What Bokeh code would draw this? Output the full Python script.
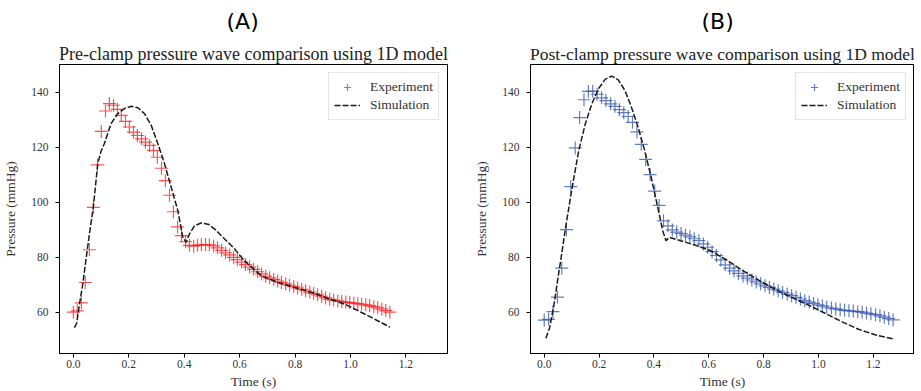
from bokeh.plotting import figure
from bokeh.layouts import row
from bokeh.models import Title, FixedTicker, Range1d, PrintfTickFormatter
from bokeh.embed import file_html
from bokeh.resources import INLINE

# ---------------- data ----------------
pre_exp_t = [0.000, 0.014, 0.029, 0.043, 0.058, 0.072, 0.087, 0.101, 0.116, 0.130,
             0.145, 0.159, 0.173, 0.188, 0.202, 0.217, 0.231, 0.246, 0.260, 0.275,
             0.289, 0.303, 0.318, 0.332, 0.347, 0.361, 0.376, 0.390, 0.405, 0.419,
             0.434, 0.448, 0.462, 0.477, 0.491, 0.506, 0.520, 0.535, 0.549, 0.564,
             0.578, 0.592, 0.607, 0.621, 0.636, 0.650, 0.665, 0.679, 0.694, 0.708,
             0.723, 0.737, 0.751, 0.766, 0.780, 0.795, 0.809, 0.824, 0.838, 0.853,
             0.867, 0.881, 0.896, 0.910, 0.925, 0.939, 0.954, 0.968, 0.983, 0.997,
             1.012, 1.026, 1.040, 1.055, 1.069, 1.084, 1.098, 1.113, 1.127, 1.142]
pre_exp_p = [60.0, 60.5, 63.4, 70.8, 82.7, 98.1, 113.5, 125.7, 133.1, 135.8,
             135.2, 133.7, 131.5, 129.3, 127.3, 125.4, 124.2, 123.0, 121.8, 120.6,
             118.8, 116.3, 112.3, 107.8, 102.5, 96.5, 91.0, 87.8, 85.6, 84.3,
             84.0, 84.3, 84.5, 84.6, 84.5, 84.1, 83.4, 82.5, 81.6, 80.8,
             79.9, 79.1, 78.2, 77.3, 76.4, 75.6, 74.7, 73.9, 73.1, 72.5,
             71.9, 71.3, 70.8, 70.3, 69.8, 69.3, 68.8, 68.3, 67.8, 67.3,
             66.8, 66.3, 65.8, 65.2, 64.7, 64.4, 64.1, 63.9, 63.7, 63.5,
             63.3, 63.1, 62.9, 62.7, 62.4, 62.0, 61.6, 61.1, 60.6, 60.0]

pre_sim_t = [0.004, 0.012, 0.022, 0.034, 0.046, 0.058, 0.072, 0.088, 0.100, 0.112,
             0.136, 0.160, 0.184, 0.209, 0.233, 0.257, 0.281, 0.305, 0.329, 0.353,
             0.377, 0.395, 0.407, 0.419, 0.437, 0.461, 0.486, 0.510, 0.534, 0.558,
             0.582, 0.606, 0.630, 0.679, 0.739, 0.799, 0.859, 0.920, 0.980, 1.040,
             1.100, 1.142]
pre_sim_p = [54.4, 56.0, 62.9, 70.2, 79.5, 88.5, 98.1, 113.9, 118.5, 121.3,
             128.5, 132.1, 134.0, 134.8, 134.3, 132.1, 127.9, 121.2, 113.9, 105.4,
             96.9, 87.2, 85.4, 88.4, 91.4, 92.4, 92.0, 90.2, 87.8, 85.4,
             83.0, 80.0, 77.5, 73.2, 70.8, 69.0, 67.2, 65.0, 62.9, 59.9,
             56.8, 54.6]

post_exp_t = [0.000, 0.016, 0.032, 0.048, 0.064, 0.081, 0.097, 0.113, 0.129, 0.145,
              0.161, 0.177, 0.193, 0.209, 0.225, 0.242, 0.258, 0.274, 0.290, 0.306,
              0.322, 0.338, 0.354, 0.370, 0.386, 0.403, 0.419, 0.435, 0.451, 0.467,
              0.483, 0.499, 0.515, 0.531, 0.547, 0.564, 0.580, 0.596, 0.612, 0.628,
              0.644, 0.660, 0.676, 0.692, 0.708, 0.725, 0.741, 0.757, 0.773, 0.789,
              0.805, 0.821, 0.837, 0.853, 0.869, 0.886, 0.902, 0.918, 0.934, 0.950,
              0.966, 0.982, 0.998, 1.014, 1.030, 1.047, 1.063, 1.079, 1.095, 1.111,
              1.127, 1.143, 1.159, 1.175, 1.191, 1.208, 1.224, 1.240, 1.256, 1.272]
post_exp_p = [57.1, 57.4, 60.2, 65.5, 76.0, 90.0, 105.6, 119.7, 130.7, 137.2,
              140.2, 140.3, 139.2, 137.9, 136.9, 135.7, 134.8, 133.6, 132.5, 131.1,
              129.0, 125.5, 121.0, 115.5, 110.0, 104.0, 98.8, 93.2, 91.4, 89.9,
              89.1, 88.6, 88.0, 87.4, 86.7, 86.0, 84.8, 83.6, 82.0, 80.6,
              79.0, 77.2, 76.0, 75.0, 74.1, 73.2, 72.4, 71.7, 71.0, 70.3,
              69.6, 69.0, 68.4, 67.8, 67.2, 66.6, 66.0, 65.4, 64.8, 64.2,
              63.7, 63.2, 62.7, 62.3, 61.9, 61.5, 61.2, 60.9, 60.7, 60.5,
              60.4, 60.2, 60.0, 59.7, 59.4, 59.1, 58.7, 58.2, 57.7, 57.2]

post_sim_t = [0.006, 0.020, 0.036, 0.054, 0.060, 0.078, 0.102, 0.126, 0.150, 0.174,
              0.198, 0.222, 0.246, 0.270, 0.294, 0.318, 0.342, 0.366, 0.390, 0.414,
              0.432, 0.444, 0.456, 0.486, 0.546, 0.606, 0.666, 0.726, 0.786, 0.846,
              0.906, 0.966, 1.026, 1.086, 1.146, 1.206, 1.278]
post_sim_p = [50.5, 54.4, 62.9, 75.0, 78.7, 90.8, 105.4, 118.8, 128.5, 135.8,
              141.2, 144.6, 145.8, 144.4, 140.6, 134.5, 127.3, 118.8, 109.0, 98.1,
              89.6, 86.0, 87.2, 86.3, 84.5, 82.4, 78.9, 75.0, 71.4, 68.1,
              65.2, 62.5, 59.5, 56.5, 53.8, 51.8, 50.2]

x_ticks = [0.0, 0.2, 0.4, 0.6, 0.8, 1.0, 1.2]
y_ticks = [60, 80, 100, 120, 140]

panel_letters = ["(A)", "(B)"]
panel_titles = ["Pre-clamp pressure wave comparison using 1D model",
                "Post-clamp pressure wave comparison using 1D model"]
series_labels = ["Experiment", "Simulation"]
x_label = "Time (s)"
y_label = "Pressure (mmHg)"

SERIF = "Liberation Serif"


def make_panel(letter, title, et, ep, st, sp, color, fw, mbl, mbr, letter_offset, title_size):
    p = figure(frame_width=fw, frame_height=289, title=None,
               x_range=Range1d(-0.05, 1.35), y_range=Range1d(45, 150),
               output_backend="svg", toolbar_location=None,
               min_border_left=mbl, min_border_right=mbr,
               min_border_top=55, min_border_bottom=30)
    p.add_layout(Title(text=title, align="center", text_font=SERIF,
                       text_font_size=title_size, text_font_style="normal",
                       text_color="#222222", standoff=2), "above")
    p.add_layout(Title(text=letter, align="left", text_font="DejaVu Sans",
                       text_font_size="22px", text_font_style="normal",
                       text_color="#000000", offset=letter_offset, standoff=13), "above")

    p.scatter(et, ep, marker="cross", size=13, line_color=color, line_alpha=0.75,
              line_width=1.2, legend_label=series_labels[0])
    p.line(st, sp, line_color="#1a1a1a", line_width=1.5, line_dash="6 2",
           legend_label=series_labels[1])

    p.xgrid.visible = False
    p.ygrid.visible = False
    p.outline_line_color = "#000000"
    p.outline_line_width = 1
    p.outline_line_alpha = 1

    for ax in (p.xaxis[0], p.yaxis[0]):
        ax.axis_line_color = "#000000"
        ax.major_tick_out = 4
        ax.major_tick_in = 0
        ax.minor_tick_out = 0
        ax.minor_tick_in = 0
        ax.major_tick_line_color = "#000000"
        ax.major_label_text_font = SERIF
        ax.major_label_text_font_size = "11.5px"
        ax.major_label_text_color = "#333333"
        ax.axis_label_text_font = SERIF
        ax.axis_label_text_font_size = "13.5px"
        ax.axis_label_text_font_style = "normal"
        ax.axis_label_text_color = "#333333"

    p.xaxis.ticker = FixedTicker(ticks=x_ticks)
    p.yaxis.ticker = FixedTicker(ticks=y_ticks)
    p.xaxis.formatter = PrintfTickFormatter(format="%.1f")
    p.yaxis.formatter = PrintfTickFormatter(format="%d")
    p.xaxis.axis_label = x_label
    p.yaxis.axis_label = y_label
    p.xaxis.major_label_standoff = 2
    p.yaxis.major_label_standoff = 7
    p.xaxis.axis_label_standoff = 3
    p.yaxis.axis_label_standoff = 10

    lg = p.legend[0]
    lg.location = "top_right"
    lg.margin = 8
    lg.padding = 5
    lg.spacing = 0
    lg.glyph_width = 26
    lg.glyph_height = 18
    lg.label_height = 18
    lg.label_standoff = 10
    lg.label_text_font = SERIF
    lg.label_text_font_size = "13.5px"
    lg.label_text_color = "#333333"
    lg.border_line_color = "#cccccc"
    lg.border_line_width = 1
    lg.background_fill_alpha = 0.8
    return p


left = make_panel(panel_letters[0], panel_titles[0], pre_exp_t, pre_exp_p,
                  pre_sim_t, pre_sim_p, "#ff1a1a", 388, 50, 20, 167, "18px")
right = make_panel(panel_letters[1], panel_titles[1], post_exp_t, post_exp_p,
                   post_sim_t, post_sim_p, "#2f52aa", 384, 63, 0, 171, "17.5px")

layout = row(left, right, styles={"margin-bottom": "-30px"})
open("out.html", "w").write(file_html(layout, INLINE))
